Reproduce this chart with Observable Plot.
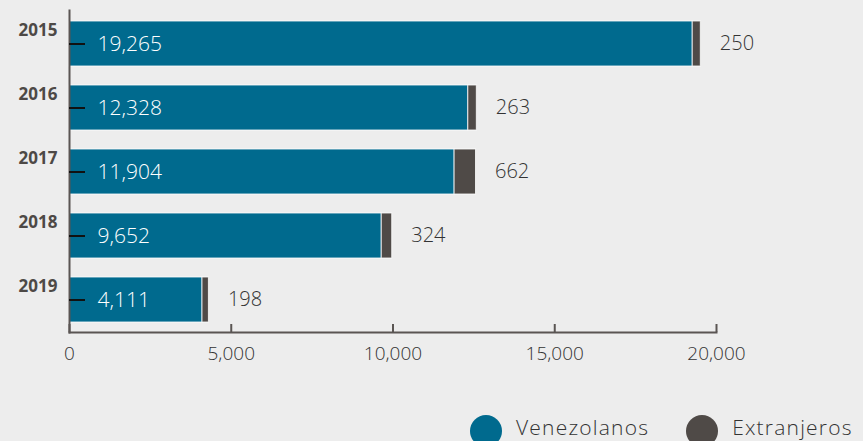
<!DOCTYPE html>
<html>
<head>
<meta charset="utf-8">
<script src="https://cdn.jsdelivr.net/npm/d3@7"></script>
<script src="https://cdn.jsdelivr.net/npm/@observablehq/plot@0.6"></script>
<style>
  html, body { margin: 0; padding: 0; background: #ededed; width: 863px; height: 441px; overflow: hidden; }
  #wrap { position: relative; width: 863px; height: 441px; }
  #legend { position: absolute; left: 470px; top: 415px; display: flex; align-items: center; font-family: "Open Sans", sans-serif; font-size: 21px; font-weight: 300; letter-spacing: 1.2px; color: #333; }
  .item { display: flex; align-items: center; margin-right: 37px; }
  .sw { width: 32px; height: 32px; border-radius: 50%; margin-right: 14px; flex: none; }
  .lab { position: relative; top: -4px; line-height: 24px; white-space: nowrap; }
</style>
</head>
<body>
<div id="wrap"><div id="chart"></div><div id="legend"></div></div>
<script>
const years = ["2015", "2016", "2017", "2018", "2019"];
const venezolanos = [19265, 12328, 11904, 9652, 4111];
const extranjeros = [250, 263, 662, 324, 198];
const series = ["Venezolanos", "Extranjeros"];
const colors = ["#006a8e", "#4f4a47"];
const xTicks = [0, 5000, 10000, 15000, 20000];

const fmt = d3.format(",");
const rows = years.flatMap((y, i) => [
  {year: y, grupo: series[0], value: venezolanos[i]},
  {year: y, grupo: series[1], value: extranjeros[i]}
]);

const chart = Plot.plot({
  width: 863,
  height: 400,
  marginLeft: 69,
  marginRight: 147,
  marginTop: 10,
  marginBottom: 68,
  style: {background: "#ededed", fontFamily: "Open Sans, sans-serif"},
  x: {domain: [0, 20000], axis: null, label: null},
  y: {domain: years, axis: null, label: null, paddingInner: 0.3, paddingOuter: 0.15},
  color: {domain: series, range: colors},
  marks: [
    Plot.barX(rows, {x: "value", y: "year", fill: "grupo", stroke: "white", strokeWidth: 1, strokeOpacity: 0.8}),
    Plot.text(years, {y: d => d, text: (d, i) => fmt(venezolanos[i]), frameAnchor: "left", dx: 28, textAnchor: "start", fill: "white", fontSize: 21, fontWeight: 300}),
    Plot.text(years, {y: d => d, x: (d, i) => venezolanos[i] + extranjeros[i], text: (d, i) => fmt(extranjeros[i]), dx: 19, textAnchor: "start", fill: "#333", fontSize: 20, fontWeight: 300}),
    Plot.frame({anchor: "left", stroke: "#5a5553", strokeWidth: 2}),
    Plot.frame({anchor: "bottom", stroke: "#5a5553", strokeWidth: 2}),
    Plot.axisY({tickSize: 16, dx: 16, fill: "none", stroke: "#111", strokeWidth: 2}),
    Plot.axisY({tickSize: 0, tickPadding: 12, dy: -13, fontSize: 17, fontWeight: "bold", fill: "#4d4946"}),
    Plot.axisX({ticks: xTicks, tickSize: 8, dy: -8, fill: "none", stroke: "#5a5553", strokeWidth: 2}),
    Plot.axisX({ticks: xTicks, tickSize: 0, tickPadding: 14, tickFormat: d3.format(","), fontSize: 19, fontWeight: 300, fill: "#333"})
  ]
});
document.getElementById("chart").appendChild(chart);

const legend = document.getElementById("legend");
series.forEach((s, i) => {
  const item = document.createElement("div");
  item.className = "item";
  const sw = document.createElement("div");
  sw.className = "sw";
  sw.style.background = colors[i];
  const label = document.createElement("span");
  label.className = "lab";
  label.textContent = s;
  item.appendChild(sw);
  item.appendChild(label);
  legend.appendChild(item);
});
</script>
</body>
</html>
